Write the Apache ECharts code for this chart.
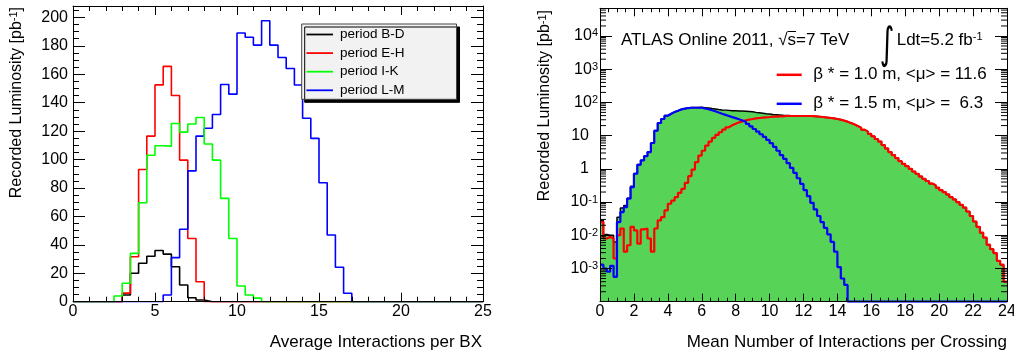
<!DOCTYPE html>
<html lang="en">
<head>
<meta charset="UTF-8">
<title>pile-up luminosity</title>
<style>html,body{margin:0;padding:0;background:#fff;}</style>
</head>
<body>
<div id="main" style="width:1014px;height:356px;"></div>
<script src="https://cdn.jsdelivr.net/npm/echarts@6/dist/echarts.min.js"></script>
<script>
var fontName = 'Liberation Sans'

// left panel: 0.5 wide bins from 0 to 25, pb^-1 per bin
var binLeft = 0.5
var periodNames = ['period B-D', 'period E-H', 'period I-K', 'period L-M']
var lumiBD = [0, 0, 0, 0, 0, 0, 4.7, 20, 27, 32, 36, 33.5, 24.6, 11.7, 2.8, 1.2, 0, 0, 0, 0,
    0, 0, 0, 0, 0, 0, 0, 0, 0, 0, 0, 0, 0, 0, 0, 0, 0, 0, 0, 0,
    0, 0, 0, 0, 0, 0, 0, 0, 0, 0]
var lumiEH = [0, 0, 0, 0, 0, 0, 6, 31.6, 93, 116.5, 152.5, 165.5, 145, 99.6, 44.5, 14, 0, 0, 0, 0,
    0, 0, 0, 0, 0, 0, 0, 0, 0, 0, 0, 0, 0, 0, 0, 0, 0, 0, 0, 0,
    0, 0, 0, 0, 0, 0, 0, 0, 0, 0]
var lumiIK = [0, 0, 0, 0, 0, 4, 13, 34, 69.6, 103, 109.7, 109.4, 125.4, 119.3, 125, 129.6, 110.9, 99.6, 72.7, 44.5,
    11, 4.7, 2.5, 0, 0, 0, 0, 0, 0, 0, 0, 0, 0, 0, 0, 0, 0, 0, 0, 0,
    0, 0, 0, 0, 0, 0, 0, 0, 0, 0]
var lumiLM = [0, 0, 0, 0, 0, 0, 0, 0, 0, 0, 0, 4.7, 31, 51, 92, 116.5, 122, 131.7, 152.8, 146,
    189, 186, 180.5, 197.6, 180.5, 171.8, 164, 152.4, 129, 114.9, 83.7, 46.9, 24.2, 5.9, 0, 0, 0, 0, 0, 0,
    0, 0, 0, 0, 0, 0, 0, 0, 0, 0]

// right panel: 0.2 wide bins from 0 to 24
var binRight = 0.2
var nameBeta10 = 'β * = 1.0 m, <μ> = 11.6'
var nameBeta15 = 'β * = 1.5 m, <μ> =  6.3'
var lumiTotal = [0.028, 0.0105, 0.01, 0.01, 0.0063, 0.035, 0.066, 0.079, 0.13, 0.3,
    0.72, 1.35, 1.8, 2.45, 3.2, 6.0, 14.1, 24, 31.6, 39.8,
    45.7, 51.3, 56.2, 61.7, 64.6, 68, 69.6, 70, 70.6, 71,
    69.5, 67.5, 65, 63, 61, 59.5, 58.5, 57.5, 56.5, 56,
    55.5, 55, 54.5, 53.5, 52.5, 50, 48.5, 47, 45.5, 44.5,
    43.5, 42.7, 41.7, 40.7, 40.5, 40, 39.8, 39.5, 39.2, 39,
    38.9, 38.9, 38.5, 37.8, 37, 36, 35, 34, 33.1, 31.6,
    30.2, 28.2, 26.3, 24, 21.9, 19.5, 17.4, 15.1, 13.2, 11.2,
    9.5, 7.9, 6.6, 5.2, 4.1, 3.2, 2.6, 2.1, 1.7, 1.41,
    1.2, 1.0, 0.83, 0.71, 0.59, 0.5, 0.43, 0.36, 0.32, 0.27,
    0.23, 0.2, 0.17, 0.14, 0.12, 0.1, 0.083, 0.068, 0.052, 0.038,
    0.026, 0.018, 0.012, 0.0085, 0.0052, 0.0038, 0.0029, 0.0017, 0.0013, 0.0004]
var lumiBeta10 = [0.025, 0.008, 0.009, 0.008, 0.002, 0.01, 0.016, 0.0032, 0.005, 0.018,
    0.014, 0.0056, 0.015, 0.016, 0.008, 0.0032, 0.016, 0.028, 0.035, 0.056,
    0.089, 0.11, 0.14, 0.19, 0.25, 0.38, 0.6, 0.95, 1.6, 2.5,
    3.5, 5.0, 6.6, 8.5, 10.5, 12.6, 15.1, 17.8, 20.4, 22.9,
    25.1, 26.9, 28.8, 30.2, 31.6, 33.1, 33.9, 34.7, 35.5, 36.3,
    37.2, 37.2, 38, 38, 38.9, 38.9, 38.9, 38.9, 38.9, 38.9,
    38.9, 38.9, 38.5, 37.8, 37, 36, 35, 34, 33.1, 31.6,
    30.2, 28.2, 26.3, 24, 21.9, 19.5, 17.4, 15.1, 13.2, 11.2,
    9.5, 7.9, 6.6, 5.2, 4.1, 3.2, 2.6, 2.1, 1.7, 1.41,
    1.2, 1.0, 0.83, 0.71, 0.59, 0.5, 0.43, 0.36, 0.32, 0.27,
    0.23, 0.2, 0.17, 0.14, 0.12, 0.1, 0.083, 0.068, 0.052, 0.038,
    0.026, 0.018, 0.012, 0.0085, 0.0052, 0.0038, 0.0029, 0.0017, 0.0013, 0.0004]
var lumiBeta15 = [0.0013, 0.001, 0.0008, 0.0012, 0.00056, 0.025, 0.05, 0.07, 0.126, 0.28,
    0.71, 1.32, 1.8, 2.4, 3.2, 6.0, 14.1, 24, 31.6, 39.8,
    45.7, 51.3, 56.2, 61.7, 64.6, 67.6, 69, 69, 69, 69,
    65.5, 62, 58, 54, 49.5, 45.5, 42, 39, 36, 33.5,
    31, 28.5, 26, 22.4, 19, 15.8, 13.2, 11, 9.1, 7.4,
    5.9, 4.6, 3.5, 2.6, 2.0, 1.48, 1.07, 0.76, 0.52, 0.35,
    0.23, 0.15, 0.095, 0.06, 0.038, 0.025, 0.0166, 0.0107, 0.0063, 0.0032,
    0.0011, 0.0005, 0.00032, 0, 0, 0, 0, 0, 0, 0,
    0, 0, 0, 0, 0, 0, 0, 0, 0, 0,
    0, 0, 0, 0, 0, 0, 0, 0, 0, 0,
    0, 0, 0, 0, 0, 0, 0, 0, 0, 0,
    0, 0, 0, 0, 0, 0, 0, 0, 0, 0]

var yLogMin = 1e-4
var yLogMax = 6.8e4

// bin contents -> points at bin edges for a step line; empty bins sit on the floor
function steps(vals, w, floor) {
    var pts = []
    for (var i = 0; i < vals.length; i++) {
        var v = vals[i]
        if (floor && !(v > 0)) v = floor
        pts.push([i * w, v])
    }
    pts.push([vals.length * w, pts[pts.length - 1][1]])
    return pts
}

function logLabel(v) {
    var l = Math.log10(v)
    var e = Math.round(l)
    if (Math.abs(l - e) > 1e-6 || e < -3) return ''
    if (e === 0) return '{b|1}'
    if (e === 1) return '{b|10}'
    return '{b0|10}{s|' + e + '}'
}

var minorLog = []
for (var e = -4; e <= 4; e++) {
    for (var m = 2; m <= 9; m++) {
        if (m * Math.pow(10, e) < yLogMax) minorLog.push([0, m * Math.pow(10, e)])
    }
}

var txt = {color: '#000', fontFamily: fontName}

function frameAxis(grid, pos, extra) {
    var a = {
        gridIndex: grid, position: pos, type: 'value', z: 5,
        axisLine: {show: true, onZero: false, lineStyle: {color: '#000', width: 1}},
        axisTick: {show: true, inside: true, length: 9, lineStyle: {color: '#000'}},
        minorTick: {show: true, length: 5, lineStyle: {color: '#000'}},
        splitLine: {show: false},
        minorSplitLine: {show: false},
        axisLabel: {show: false}
    }
    for (var k in extra) a[k] = extra[k]
    return a
}

var xLeft = {min: 0, max: 25, interval: 5}
var xRight = {min: 0, max: 24, interval: 2}
var yLeft = {min: 0, max: 208, interval: 20}

var xAxes = [
    frameAxis(0, 'bottom', Object.assign({
        axisLabel: {show: true, fontSize: 16, margin: 2, color: '#000', fontFamily: fontName},
        minorTick: {show: true, splitNumber: 5, length: 5, lineStyle: {color: '#000'}}
    }, xLeft)),
    frameAxis(0, 'top', Object.assign({
        minorTick: {show: true, splitNumber: 5, length: 5, lineStyle: {color: '#000'}}
    }, xLeft)),
    frameAxis(1, 'bottom', Object.assign({
        axisTick: {show: true, inside: true, length: 8, lineStyle: {color: '#000'}},
        axisLabel: {show: true, fontSize: 16, margin: 2, color: '#000', fontFamily: fontName},
        minorTick: {show: true, splitNumber: 4, length: 4, lineStyle: {color: '#000'}}
    }, xRight)),
    frameAxis(1, 'top', Object.assign({
        axisTick: {show: true, inside: true, length: 8, lineStyle: {color: '#000'}},
        minorTick: {show: true, splitNumber: 4, length: 4, lineStyle: {color: '#000'}}
    }, xRight))
]

var logLabelStyle = {
    show: true, margin: 2, fontSize: 16, color: '#000', fontFamily: fontName,
    formatter: logLabel, showMinLabel: false, showMaxLabel: false,
    rich: {
        b: {fontSize: 16, fontFamily: fontName, color: '#000', padding: [0, 9, 0, 0]},
        b0: {fontSize: 16, fontFamily: fontName, color: '#000'},
        s: {fontSize: 11, fontFamily: fontName, color: '#000', verticalAlign: 'top'}
    }
}

var yAxes = [
    frameAxis(0, 'left', Object.assign({
        axisTick: {show: true, inside: true, length: 12, lineStyle: {color: '#000'}},
        minorTick: {show: true, splitNumber: 4, length: 6, lineStyle: {color: '#000'}},
        axisLabel: {show: true, fontSize: 16, margin: 5, color: '#000', fontFamily: fontName, showMaxLabel: false}
    }, yLeft)),
    frameAxis(0, 'right', Object.assign({
        axisTick: {show: true, inside: true, length: 12, lineStyle: {color: '#000'}},
        minorTick: {show: true, splitNumber: 4, length: 6, lineStyle: {color: '#000'}}
    }, yLeft)),
    frameAxis(1, 'left', {
        type: 'log', min: yLogMin, max: yLogMax,
        axisTick: {show: true, inside: true, length: 12, lineStyle: {color: '#000'}},
        minorTick: {show: false},
        axisLabel: logLabelStyle
    }),
    frameAxis(1, 'right', {
        type: 'log', min: yLogMin, max: yLogMax,
        axisTick: {show: true, inside: true, length: 12, lineStyle: {color: '#000'}},
        minorTick: {show: false}
    })
]

function leftLine(name, vals, color) {
    return {
        name: name, type: 'line', xAxisIndex: 0, yAxisIndex: 0,
        data: steps(vals, binLeft), step: 'end', symbol: 'none',
        color: color, lineStyle: {color: color, width: 1.6}
    }
}

function rightLine(name, vals, color) {
    return {
        name: name, type: 'line', xAxisIndex: 2, yAxisIndex: 2,
        data: steps(vals, binRight, yLogMin), step: 'end', symbol: 'none',
        color: color, lineStyle: {color: color, width: 2.2}
    }
}

var series = [
    leftLine(periodNames[0], lumiBD, '#000000'),
    leftLine(periodNames[1], lumiEH, '#ff0000'),
    leftLine(periodNames[3], lumiLM, '#0000ff'),
    leftLine(periodNames[2], lumiIK, '#00ff00'),
    {
        name: 'total', type: 'line', xAxisIndex: 2, yAxisIndex: 2,
        data: steps(lumiTotal, binRight, yLogMin), step: 'end', symbol: 'none',
        color: '#000', lineStyle: {color: '#000', width: 1.5},
        areaStyle: {color: '#57d457', opacity: 1, origin: 'start'}
    },
    rightLine(nameBeta10, lumiBeta10, '#ff0000'),
    rightLine(nameBeta15, lumiBeta15, '#0000ff'),
    {
        // log minor ticks (2..9 per decade) on both sides of the right frame
        type: 'custom', xAxisIndex: 2, yAxisIndex: 2, silent: true, z: 6,
        data: minorLog,
        renderItem: function (params, api) {
            var v = api.value(1)
            var a = api.coord([0, v])
            var b = api.coord([24, v])
            return {
                type: 'group', children: [
                    {type: 'line', shape: {x1: a[0], y1: a[1], x2: a[0] + 6, y2: a[1]}, style: {stroke: '#000', lineWidth: 1}},
                    {type: 'line', shape: {x1: b[0] - 6, y1: b[1], x2: b[0], y2: b[1]}, style: {stroke: '#000', lineWidth: 1}}
                ]
            }
        }
    }
]

// overline for the sqrt(s)
var ctx = document.createElement('canvas').getContext('2d')
ctx.font = '17px "' + fontName + '"'
var atlasX = 621
var sLeft = atlasX + ctx.measureText('ATLAS Online 2011, √').width
var sRight = sLeft + ctx.measureText('s').width

var supRich = {s: {fontSize: 11, fontFamily: fontName, color: '#000', verticalAlign: 'top'}}

var option = {
    animation: false,
    backgroundColor: '#fff',
    textStyle: txt,
    grid: [
        {left: 73, top: 6, width: 410, height: 295.7, outerBoundsMode: 'none'},
        {left: 600, top: 8.3, width: 407, height: 293.4, outerBoundsMode: 'none'}
    ],
    xAxis: xAxes,
    yAxis: yAxes,
    legend: [{
        data: periodNames, orient: 'vertical', left: 301.7, top: 24,
        icon: 'path://M0,0L30,0L30,2L0,2Z',
        padding: [3.5, 52, 2, 4.7], itemGap: 4.6, itemWidth: 26.6, itemHeight: 14,
        backgroundColor: '#f2f2f2', borderColor: '#444', borderWidth: 1,
        shadowColor: '#000', shadowBlur: 0, shadowOffsetX: 3, shadowOffsetY: 3,
        selectedMode: false,
        textStyle: {fontSize: 13.5, color: '#000', fontFamily: fontName, padding: [0, 0, 0, 2]}
    }, {
        data: [nameBeta10, nameBeta15], orient: 'vertical', left: 776.7, top: 66.3,
        icon: 'path://M0,0L30,0L30,3L0,3Z',
        padding: 0, itemGap: 12, itemWidth: 25, itemHeight: 14, selectedMode: false,
        textStyle: {fontSize: 17, color: '#000', fontFamily: fontName, padding: [0, 0, 0, 6.6]}
    }],
    graphic: [
        {type: 'text', x: 16.7, y: 7, rotation: Math.PI / 2, style: {
            text: 'Recorded Luminosity [pb{s|-1}]', rich: supRich, fill: '#000',
            font: '16px "' + fontName + '"', align: 'right', verticalAlign: 'middle'}},
        {type: 'text', x: 545, y: 10, rotation: Math.PI / 2, style: {
            text: 'Recorded Luminosity [pb{s|-1}]', rich: supRich, fill: '#000',
            font: '16px "' + fontName + '"', align: 'right', verticalAlign: 'middle'}},
        {type: 'text', x: 482, y: 342, style: {
            text: 'Average Interactions per BX', fill: '#000',
            font: '17px "' + fontName + '"', align: 'right', verticalAlign: 'middle'}},
        {type: 'text', x: 1007, y: 342, style: {
            text: 'Mean Number of Interactions per Crossing', fill: '#000',
            font: '17px "' + fontName + '"', align: 'right', verticalAlign: 'middle'}},
        {type: 'text', x: atlasX, y: 40, z: 10, style: {
            text: 'ATLAS Online 2011, √s=7 TeV', fill: '#000',
            font: '17px "' + fontName + '"', align: 'left', verticalAlign: 'middle'}},
        {type: 'line', z: 10, shape: {x1: sLeft, y1: 31.5, x2: sRight, y2: 31.5}, style: {stroke: '#000', lineWidth: 1}},
        {type: 'text', x: 887, y: 47, scaleY: 1.55, z: 10, style: {
            text: '∫', fill: '#000',
            font: '28px "DejaVu Sans"', align: 'center', verticalAlign: 'middle'}},
        {type: 'text', x: 896.7, y: 40, z: 10, style: {
            text: 'Ldt=5.2 fb{s|-1}', rich: supRich, fill: '#000',
            font: '17px "' + fontName + '"', align: 'left', verticalAlign: 'middle'}}
    ],
    series: series
}

var chart = echarts.init(document.getElementById('main'))
chart.setOption(option)
</script>
</body>
</html>
